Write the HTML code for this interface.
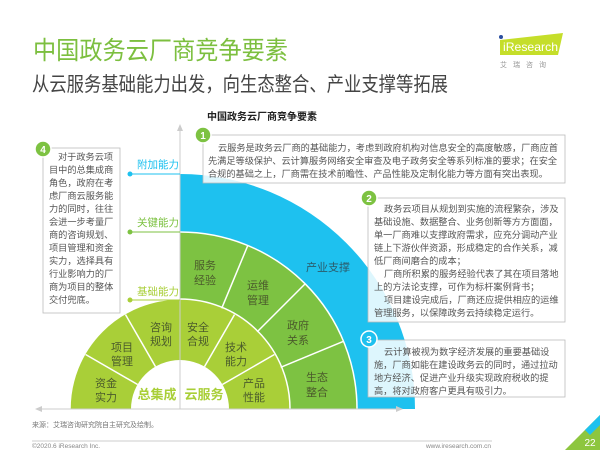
<!DOCTYPE html>
<html><head><meta charset="utf-8"><style>
body{margin:0;width:600px;height:450px;overflow:hidden;background:#fff;font-family:"Liberation Sans","Noto Sans CJK SC",sans-serif;}
svg{display:block}
svg text{font-family:"Liberation Sans","Noto Sans CJK SC",sans-serif;}
</style></head><body>
<svg width="600" height="450" viewBox="0 0 600 450" xmlns="http://www.w3.org/2000/svg">
<defs>
<clipPath id="rq"><rect x="180" y="0" width="300" height="409"/></clipPath>
<clipPath id="up"><rect x="0" y="0" width="600" height="409"/></clipPath>
</defs>
<text x="33" y="59" font-size="25" fill="#7cbf3f" textLength="255" lengthAdjust="spacingAndGlyphs">中国政务云厂商竞争要素</text>
<text x="32" y="91" font-size="20" fill="#444" textLength="416" lengthAdjust="spacingAndGlyphs">从云服务基础能力出发，向生态整合、产业支撑等拓展</text>
<polygon points="500,40 563,33 558,55 500,55" fill="#c5de2a"/>
<text x="503" y="51" font-size="12" fill="#fff" textLength="55" lengthAdjust="spacingAndGlyphs">iResearch</text>
<circle cx="501" cy="37" r="2" fill="#2a4ea0"/>
<text x="500" y="67" font-size="7" fill="#999" letter-spacing="6">艾瑞咨询</text>
<text x="262" y="120" font-size="10" font-weight="bold" fill="#222" text-anchor="middle">中国政务云厂商竞争要素</text>

<g clip-path="url(#up)">
<circle cx="180" cy="409" r="235" fill="#1ec1ef" clip-path="url(#rq)"/>
<circle cx="180" cy="409" r="177" fill="#7dc242" stroke="#fff" stroke-width="1.5" clip-path="url(#rq)"/>
<circle cx="180" cy="409" r="110" fill="#a9cf38" stroke="#fff" stroke-width="1.5"/>
<circle cx="180" cy="409" r="49" fill="#fff"/>
</g>
<g stroke="#fff" stroke-width="1.5">
<line x1="221.7" y1="308.3" x2="247.8" y2="245.5"/>
<line x1="257.1" y1="331.9" x2="305.1" y2="283.9"/>
<line x1="280.7" y1="367.3" x2="343.5" y2="341.3"/>
<line x1="204.5" y1="366.6" x2="234.5" y2="314.6"/>
<line x1="222.4" y1="384.5" x2="274.4" y2="354.5"/>
<line x1="155.5" y1="366.6" x2="125.5" y2="314.6"/>
<line x1="137.6" y1="384.5" x2="85.6" y2="354.5"/>
</g>
<line x1="180" y1="127" x2="180" y2="409" stroke="#ccc" stroke-width="1"/>
<polygon points="180,124 177,131 183,131" fill="#ccc"/>
<line x1="38" y1="409" x2="400" y2="409" stroke="#ccc" stroke-width="1"/>
<polygon points="35,409 42,406 42,412" fill="#ccc"/>
<polygon points="403,409 396,406 396,412" fill="#ccc"/>

<g font-size="11" fill="#4b5b2c" text-anchor="middle">
<text x="205" y="269">服务</text><text x="205" y="284">经验</text>
<text x="258" y="289">运维</text><text x="258" y="304">管理</text>
<text x="328" y="271" fill="#2b5b6b">产业支撑</text>
<text x="298" y="329">政府</text><text x="298" y="344">关系</text>
<text x="317" y="381">生态</text><text x="317" y="396">整合</text>
<text x="198" y="331">安全</text><text x="198" y="345">合规</text>
<text x="236" y="351">技术</text><text x="236" y="365">能力</text>
<text x="254" y="387">产品</text><text x="254" y="401">性能</text>
<text x="161" y="331">咨询</text><text x="161" y="345">规划</text>
<text x="122" y="351">项目</text><text x="122" y="365">管理</text>
<text x="106" y="387">资金</text><text x="106" y="401">实力</text>
</g>
<text x="157" y="399" font-size="13" font-weight="bold" fill="#a9cf38" text-anchor="middle">总集成</text>
<text x="204" y="399" font-size="13" font-weight="bold" fill="#a9cf38" text-anchor="middle">云服务</text>

<g font-size="10.5">
<text x="137" y="168" fill="#1ec1ef">附加能力</text>
<line x1="130" y1="174" x2="180" y2="174" stroke="#1ec1ef"/><circle cx="130" cy="174" r="2.5" fill="#1ec1ef"/>
<text x="137" y="226" fill="#7dc242">关键能力</text>
<line x1="130" y1="232" x2="180" y2="232" stroke="#7dc242"/><circle cx="130" cy="232" r="2.5" fill="#7dc242"/>
<text x="137" y="295" fill="#a9cf38">基础能力</text>
<line x1="130" y1="300" x2="180" y2="300" stroke="#a9cf38"/><circle cx="130" cy="300" r="2.5" fill="#a9cf38"/>
</g>

<g fill="rgba(255,255,255,0.85)" stroke="#bbb" stroke-width="0.8">
<rect x="203" y="135" width="362" height="48"/>
<rect x="368" y="198" width="197" height="124"/>
<rect x="368" y="340" width="197" height="57"/>
<rect x="43" y="148" width="77" height="165"/>
</g>
<g font-size="9.2" fill="#555">
<text x="218" y="151">云服务是政务云厂商的基础能力，考虑到政府机构对信息安全的高度敏感，厂商应首</text>
<text x="208" y="164">先满足等级保护、云计算服务网络安全审查及电子政务安全等系列标准的要求；在安全</text>
<text x="208" y="177">合规的基础之上，厂商需在技术前瞻性、产品性能及定制化能力等方面有突出表现。</text>
<text x="384" y="212">政务云项目从规划到实施的流程繁杂，涉及</text>
<text x="374" y="225">基础设施、数据整合、业务创新等方方面面，</text>
<text x="374" y="238">单一厂商难以支撑政府需求，应充分调动产业</text>
<text x="374" y="251">链上下游伙伴资源，形成稳定的合作关系，减</text>
<text x="374" y="264">低厂商间磨合的成本；</text>
<text x="384" y="277">厂商所积累的服务经验代表了其在项目落地</text>
<text x="374" y="290">上的方法论支撑，可作为标杆案例背书；</text>
<text x="384" y="303">项目建设完成后，厂商还应提供相应的运维</text>
<text x="374" y="316">管理服务，以保障政务云持续稳定运行。</text>
<text x="384" y="355">云计算被视为数字经济发展的重要基础设</text>
<text x="374" y="368">施，厂商如能在建设政务云的同时，通过拉动</text>
<text x="374" y="381">地方经济、促进产业升级实现政府税收的提</text>
<text x="374" y="394">高，将对政府客户更具有吸引力。</text>
<text x="58" y="160">对于政务云项</text>
<text x="49" y="173">目中的总集成商</text>
<text x="49" y="186">角色，政府在考</text>
<text x="49" y="199">虑厂商云服务能</text>
<text x="49" y="212">力的同时，往往</text>
<text x="49" y="225">会进一步考量厂</text>
<text x="49" y="238">商的咨询规划、</text>
<text x="49" y="251">项目管理和资金</text>
<text x="49" y="264">实力，选择具有</text>
<text x="49" y="277">行业影响力的厂</text>
<text x="49" y="290">商为项目的整体</text>
<text x="49" y="303">交付兜底。</text>
</g>
<g font-size="10" font-weight="bold" fill="#fff" text-anchor="middle">
<circle cx="203" cy="135" r="8" fill="#7dc242" stroke="#fff" stroke-width="1.5"/><text x="203" y="139">1</text>
<circle cx="369" cy="198" r="8" fill="#7dc242" stroke="#fff" stroke-width="1.5"/><text x="369" y="202">2</text>
<circle cx="369" cy="339" r="8" fill="#1ec1ef" stroke="#fff" stroke-width="1.5"/><text x="369" y="343">3</text>
<circle cx="43" cy="149" r="8" fill="#7dc242" stroke="#fff" stroke-width="1.5"/><text x="43" y="153">4</text>
</g>

<text x="32" y="427" font-size="7" fill="#777">来源：艾瑞咨询研究院自主研究及绘制。</text>
<line x1="32" y1="441" x2="492" y2="441" stroke="#ccc" stroke-width="1"/>
<text x="32" y="448" font-size="6.5" fill="#888">©2020.6 iResearch Inc.</text>
<text x="491" y="448" font-size="6.5" fill="#888" text-anchor="end">www.iresearch.com.cn</text>
<polygon points="600,415 600,450 565,450" fill="#8dc63f"/>
<polygon points="600,415 585,430 590,435 600,425" fill="#1ec1ef"/>
<text x="590" y="446" font-size="10" fill="#fff" text-anchor="middle">22</text>
</svg>
</body></html>
